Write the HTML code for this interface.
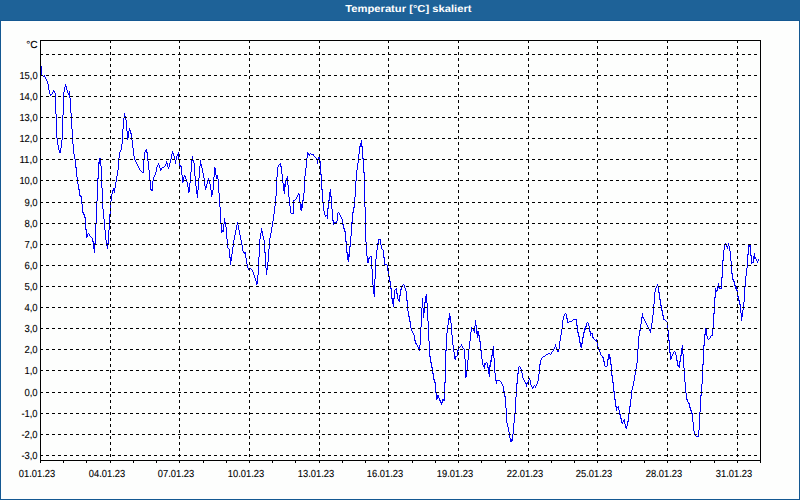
<!DOCTYPE html>
<html lang="de"><head><meta charset="utf-8"><title>Temperatur [°C] skaliert</title>
<style>
html,body{margin:0;padding:0;}
body{width:800px;height:500px;overflow:hidden;background:#1e6298;}
svg{display:block;position:absolute;left:0;top:0;}
text{font-family:"Liberation Sans",sans-serif;text-rendering:geometricPrecision;}
.t{font-size:10.2px;fill:#000;stroke:#000;stroke-width:0.1px;}
.h{font-size:10.2px;font-weight:bold;fill:#fff;}
</style></head><body>
<svg width="800" height="500" viewBox="0 0 800 500">
<rect x="0" y="0" width="800" height="500" fill="#145892"/>
<rect x="0" y="0" width="800" height="20" fill="#1e6298"/>
<rect x="1" y="21" width="798" height="478" fill="#fdfefd"/>
<text class="h" x="345.3" y="12" textLength="126.2" lengthAdjust="spacingAndGlyphs">Temperatur [°C] skaliert</text>
<g shape-rendering="crispEdges" stroke="#000" stroke-width="1" fill="none">
<path stroke="#0000f8" d="M41.5 66v9M42.5 75v1M43.5 76v1M44.5 75v2M45.5 77v2M46.5 79v2M47.5 81v3M48.5 84v6M49.5 90v4M50.5 94v2M51.5 94v1M52.5 92v2M53.5 90v2M54.5 91v2M55.5 93v21M56.5 114v24M57.5 138v7M58.5 145v5M59.5 150v3M60.5 148v5M61.5 140v8M62.5 115v25M63.5 92v23M64.5 87v5M65.5 84v3M66.5 86v4M67.5 90v3M68.5 93v2M69.5 91v7M70.5 98v15M71.5 113v16M72.5 129v15M73.5 144v10M74.5 154v5M75.5 159v9M76.5 167v10M77.5 177v7M78.5 184v6M79.5 189v7M80.5 195v2M81.5 196v8M82.5 204v9M83.5 212v3M84.5 214v4M85.5 217v13M86.5 229v9M87.5 234v3M88.5 233v1M89.5 234v2M90.5 236v1M91.5 237v1M92.5 238v4M93.5 241v8M94.5 243v10M95.5 223v21M96.5 201v22M97.5 178v23M98.5 162v17M99.5 158v6M100.5 158v8M101.5 166v22M102.5 188v21M103.5 209v10M104.5 219v11M105.5 230v10M106.5 240v6M107.5 243v6M108.5 230v14M109.5 214v16M110.5 201v13M111.5 194v7M112.5 190v4M113.5 188v3M114.5 188v5M115.5 182v6M116.5 176v6M117.5 170v6M118.5 158v12M119.5 152v6M120.5 150v2M121.5 144v6M122.5 129v15M123.5 118v11M124.5 113v5M125.5 116v4M126.5 120v11M127.5 131v9M128.5 131v7M129.5 128v3M130.5 130v4M131.5 133v7M132.5 140v8M133.5 148v8M134.5 156v4M135.5 160v2M136.5 162v2M137.5 164v2M138.5 166v2M139.5 168v2M140.5 170v1M141.5 171v1M142.5 172v1M143.5 160v13M144.5 152v8M145.5 150v2M146.5 149v4M147.5 152v9M148.5 161v9M149.5 170v11M150.5 180v10M151.5 189v2M152.5 181v10M153.5 177v4M154.5 175v2M155.5 172v3M156.5 167v5M157.5 165v2M158.5 163v2M159.5 165v3M160.5 168v3M161.5 168v2M162.5 167v1M163.5 167v1M164.5 166v1M165.5 164v2M166.5 161v3M167.5 163v4M168.5 167v2M169.5 163v4M170.5 159v4M171.5 154v5M172.5 151v3M173.5 153v3M174.5 156v4M175.5 160v4M176.5 156v4M177.5 154v2M178.5 152v7M179.5 159v7M180.5 165v2M181.5 166v9M182.5 175v8M183.5 177v5M184.5 175v2M185.5 176v3M186.5 179v3M187.5 182v5M188.5 187v6M189.5 183v9M190.5 172v11M191.5 160v12M192.5 156v5M193.5 160v3M194.5 163v13M195.5 176v10M196.5 186v8M197.5 190v8M198.5 178v12M199.5 166v12M200.5 160v6M201.5 164v4M202.5 168v5M203.5 173v5M204.5 178v8M205.5 186v4M206.5 184v4M207.5 180v4M208.5 178v3M209.5 180v4M210.5 184v6M211.5 190v7M212.5 190v5M213.5 177v13M214.5 167v10M215.5 168v7M216.5 175v4M217.5 175v4M218.5 179v14M219.5 193v14M220.5 207v17M221.5 224v9M222.5 230v2M223.5 224v8M224.5 218v6M225.5 222v5M226.5 227v12M227.5 239v9M228.5 248v1M229.5 249v9M230.5 257v8M231.5 254v7M232.5 247v7M233.5 240v7M234.5 235v5M235.5 230v5M236.5 225v5M237.5 222v3M238.5 225v5M239.5 230v5M240.5 235v5M241.5 240v5M242.5 245v6M243.5 251v2M244.5 252v2M245.5 252v6M246.5 258v6M247.5 264v4M248.5 268v2M249.5 268v1M250.5 268v1M251.5 269v1M252.5 270v2M253.5 272v3M254.5 275v3M255.5 278v3M256.5 281v4M257.5 275v9M258.5 257v18M259.5 239v18M260.5 233v6M261.5 228v5M262.5 231v5M263.5 236v4M264.5 240v13M265.5 252v16M266.5 268v7M267.5 262v8M268.5 249v13M269.5 238v11M270.5 233v5M271.5 227v6M272.5 221v6M273.5 214v7M274.5 206v8M275.5 196v10M276.5 177v19M277.5 167v10M278.5 165v2M279.5 164v1M280.5 163v4M281.5 166v8M282.5 174v9M283.5 183v8M284.5 184v10M285.5 180v7M286.5 178v3M287.5 176v9M288.5 185v12M289.5 197v9M290.5 206v7M291.5 213v1M292.5 213v1M293.5 200v14M294.5 200v1M295.5 199v1M296.5 197v2M297.5 195v2M298.5 193v2M299.5 194v9M300.5 203v7M301.5 204v7M302.5 200v8M303.5 193v8M304.5 176v17M305.5 168v8M306.5 158v10M307.5 152v6M308.5 153v2M309.5 154v2M310.5 153v1M311.5 154v1M312.5 154v1M313.5 154v2M314.5 156v1M315.5 157v1M316.5 158v2M317.5 159v5M318.5 157v3M319.5 157v4M320.5 161v14M321.5 174v16M322.5 189v13M323.5 202v9M324.5 211v4M325.5 215v2M326.5 215v1M327.5 208v11M328.5 200v9M329.5 192v9M330.5 189v8M331.5 196v13M332.5 209v12M333.5 220v5M334.5 222v2M335.5 222v1M336.5 221v2M337.5 213v8M338.5 212v1M339.5 213v2M340.5 215v2M341.5 217v2M342.5 219v6M343.5 224v5M344.5 228v4M345.5 231v11M346.5 241v12M347.5 252v8M348.5 254v8M349.5 246v11M350.5 236v11M351.5 222v14M352.5 212v11M353.5 207v6M354.5 197v11M355.5 181v16M356.5 170v11M357.5 163v7M358.5 154v9M359.5 146v8M360.5 143v4M361.5 140v7M362.5 146v13M363.5 158v15M364.5 172v35M365.5 207v35M366.5 242v14M367.5 256v7M368.5 258v5M369.5 257v2M370.5 256v1M371.5 256v13M372.5 269v16M373.5 285v9M374.5 279v18M375.5 259v20M376.5 250v9M377.5 243v7M378.5 239v5M379.5 239v1M380.5 239v6M381.5 245v4M382.5 249v1M383.5 250v8M384.5 257v8M385.5 264v1M386.5 264v1M387.5 265v6M388.5 270v7M389.5 276v6M390.5 281v8M391.5 288v11M392.5 298v6M393.5 298v9M394.5 290v9M395.5 289v1M396.5 288v6M397.5 293v6M398.5 299v2M399.5 295v7M400.5 289v7M401.5 287v3M402.5 285v2M403.5 284v1M404.5 285v3M405.5 288v3M406.5 291v10M407.5 300v11M408.5 311v6M409.5 316v6M410.5 321v7M411.5 328v3M412.5 331v2M413.5 333v2M414.5 335v6M415.5 340v4M416.5 343v2M417.5 345v2M418.5 347v3M419.5 345v6M420.5 327v18M421.5 308v19M422.5 298v10M423.5 308v10M424.5 302v11M425.5 296v7M426.5 294v9M427.5 303v18M428.5 321v20M429.5 341v16M430.5 356v7M431.5 362v6M432.5 367v7M433.5 373v7M434.5 379v4M435.5 382v11M436.5 392v8M437.5 395v4M438.5 395v3M439.5 398v3M440.5 400v3M441.5 402v3M442.5 399v4M443.5 399v2M444.5 382v19M445.5 350v33M446.5 333v18M447.5 325v8M448.5 318v7M449.5 313v7M450.5 316v7M451.5 323v12M452.5 335v10M453.5 345v7M454.5 352v7M455.5 356v4M456.5 356v1M457.5 350v6M458.5 348v3M459.5 347v1M460.5 346v1M461.5 344v2M462.5 346v2M463.5 348v1M464.5 349v10M465.5 359v19M466.5 370v7M467.5 360v10M468.5 349v11M469.5 341v8M470.5 332v9M471.5 327v5M472.5 328v1M473.5 329v2M474.5 326v7M475.5 320v6M476.5 325v9M477.5 331v7M478.5 331v5M479.5 335v7M480.5 341v10M481.5 350v9M482.5 359v6M483.5 365v2M484.5 363v6M485.5 363v2M486.5 362v1M487.5 363v5M488.5 367v7M489.5 365v12M490.5 360v7M491.5 355v7M492.5 349v7M493.5 346v12M494.5 358v15M495.5 373v8M496.5 380v4M497.5 380v1M498.5 380v1M499.5 380v1M500.5 381v1M501.5 382v2M502.5 384v2M503.5 386v6M504.5 391v6M505.5 396v12M506.5 408v15M507.5 423v4M508.5 427v5M509.5 432v6M510.5 438v4M511.5 439v3M512.5 434v7M513.5 423v11M514.5 413v10M515.5 397v16M516.5 383v14M517.5 373v11M518.5 367v7M519.5 366v1M520.5 367v2M521.5 369v4M522.5 373v5M523.5 378v2M524.5 380v2M525.5 382v2M526.5 383v4M527.5 382v2M528.5 380v2M529.5 378v2M530.5 380v5M531.5 385v2M532.5 387v2M533.5 386v2M534.5 385v1M535.5 386v2M536.5 384v2M537.5 381v3M538.5 374v7M539.5 364v10M540.5 360v5M541.5 358v2M542.5 357v1M543.5 356v1M544.5 356v1M545.5 355v1M546.5 354v1M547.5 354v1M548.5 353v1M549.5 353v1M550.5 354v1M551.5 352v2M552.5 351v1M553.5 349v2M554.5 347v2M555.5 344v3M556.5 347v3M557.5 350v2M558.5 349v3M559.5 341v8M560.5 335v6M561.5 329v6M562.5 320v9M563.5 316v4M564.5 314v2M565.5 313v1M566.5 314v5M567.5 318v5M568.5 322v1M569.5 321v1M570.5 321v1M571.5 321v1M572.5 320v1M573.5 319v1M574.5 319v1M575.5 319v1M576.5 319v7M577.5 325v8M578.5 332v5M579.5 336v7M580.5 342v5M581.5 343v5M582.5 337v7M583.5 332v6M584.5 328v5M585.5 326v4M586.5 323v4M587.5 322v1M588.5 323v3M589.5 326v6M590.5 331v5M591.5 333v1M592.5 333v5M593.5 337v2M594.5 339v1M595.5 340v1M596.5 339v3M597.5 341v7M598.5 347v2M599.5 349v3M600.5 352v3M601.5 355v1M602.5 356v2M603.5 357v5M604.5 361v5M605.5 366v1M606.5 366v1M607.5 359v7M608.5 354v6M609.5 354v5M610.5 357v8M611.5 364v12M612.5 375v8M613.5 382v10M614.5 391v9M615.5 399v8M616.5 406v5M617.5 407v1M618.5 406v4M619.5 410v5M620.5 414v5M621.5 418v5M622.5 422v2M623.5 420v2M624.5 419v5M625.5 424v4M626.5 426v3M627.5 421v5M628.5 413v9M629.5 406v8M630.5 399v8M631.5 390v9M632.5 386v4M633.5 381v5M634.5 375v6M635.5 369v6M636.5 363v6M637.5 349v14M638.5 336v13M639.5 330v6M640.5 324v7M641.5 317v7M642.5 313v5M643.5 317v2M644.5 319v2M645.5 321v2M646.5 323v2M647.5 325v2M648.5 327v2M649.5 329v2M650.5 329v4M651.5 323v6M652.5 315v8M653.5 304v11M654.5 292v12M655.5 288v4M656.5 286v2M657.5 284v2M658.5 286v7M659.5 292v8M660.5 299v7M661.5 305v6M662.5 310v6M663.5 315v5M664.5 319v1M665.5 320v1M666.5 321v1M667.5 322v8M668.5 330v11M669.5 340v13M670.5 352v8M671.5 356v3M672.5 354v2M673.5 352v2M674.5 351v1M675.5 352v3M676.5 355v6M677.5 360v6M678.5 365v2M679.5 361v7M680.5 355v7M681.5 348v8M682.5 345v9M683.5 354v14M684.5 368v14M685.5 382v11M686.5 393v7M687.5 399v3M688.5 402v2M689.5 403v5M690.5 407v4M691.5 410v4M692.5 413v9M693.5 422v9M694.5 431v4M695.5 434v2M696.5 436v1M697.5 436v1M698.5 430v7M699.5 412v18M700.5 395v17M701.5 384v12M702.5 364v20M703.5 345v20M704.5 334v12M705.5 328v7M706.5 329v7M707.5 336v3M708.5 339v1M709.5 338v1M710.5 336v2M711.5 335v1M712.5 328v8M713.5 313v16M714.5 297v17M715.5 288v10M716.5 290v2M717.5 286v5M718.5 283v5M719.5 287v2M720.5 288v1M721.5 277v12M722.5 260v18M723.5 250v11M724.5 244v6M725.5 243v1M726.5 244v3M727.5 246v3M728.5 243v3M729.5 246v5M730.5 251v10M731.5 261v13M732.5 273v7M733.5 279v3M734.5 281v5M735.5 285v4M736.5 287v4M737.5 290v7M738.5 296v5M739.5 300v5M740.5 304v9M741.5 313v8M742.5 310v7M743.5 302v8M744.5 287v15M745.5 276v11M746.5 268v8M747.5 254v14M748.5 244v11M749.5 244v3M750.5 244v12M751.5 255v9M752.5 262v1M753.5 256v7M754.5 253v6M755.5 257v2M756.5 259v2M757.5 261v2M758.5 259v2"/>
<g stroke-dasharray="3 3">
<path d="M40 54.5H760M40 75.5H760M40 96.5H760M40 117.5H760M40 138.5H760M40 159.5H760M40 180.5H760M40 202.5H760M40 223.5H760M40 244.5H760M40 265.5H760M40 286.5H760M40 307.5H760M40 328.5H760M40 349.5H760M40 370.5H760M40 392.5H760M40 413.5H760M40 434.5H760M40 455.5H760"/>
<path d="M110.5 40V460M179.5 40V460M249.5 40V460M319.5 40V460M388.5 40V460M458.5 40V460M528.5 40V460M597.5 40V460M667.5 40V460M737.5 40V460"/>
</g>
<rect x="40.5" y="40.5" width="720" height="420"/>
<path d="M40.5 461v2M63.5 461v2M86.5 461v2M110.5 461v2M133.5 461v2M156.5 461v2M179.5 461v2M203.5 461v2M226.5 461v2M249.5 461v2M272.5 461v2M295.5 461v2M319.5 461v2M342.5 461v2M365.5 461v2M388.5 461v2M412.5 461v2M435.5 461v2M458.5 461v2M481.5 461v2M505.5 461v2M528.5 461v2M551.5 461v2M574.5 461v2M597.5 461v2M621.5 461v2M644.5 461v2M667.5 461v2M690.5 461v2M714.5 461v2M737.5 461v2M760.5 461v2"/>
</g>
<g class="t" text-anchor="end">
<text x="37.6" y="48" textLength="11.4" lengthAdjust="spacingAndGlyphs">°C</text>
<text x="37.6" y="79" textLength="18.2" lengthAdjust="spacingAndGlyphs">15,0</text>
<text x="37.6" y="100" textLength="18.2" lengthAdjust="spacingAndGlyphs">14,0</text>
<text x="37.6" y="121" textLength="18.2" lengthAdjust="spacingAndGlyphs">13,0</text>
<text x="37.6" y="142" textLength="18.2" lengthAdjust="spacingAndGlyphs">12,0</text>
<text x="37.6" y="163" textLength="18.2" lengthAdjust="spacingAndGlyphs">11,0</text>
<text x="37.6" y="184" textLength="18.2" lengthAdjust="spacingAndGlyphs">10,0</text>
<text x="37.6" y="206" textLength="13.2" lengthAdjust="spacingAndGlyphs">9,0</text>
<text x="37.6" y="227" textLength="13.2" lengthAdjust="spacingAndGlyphs">8,0</text>
<text x="37.6" y="248" textLength="13.2" lengthAdjust="spacingAndGlyphs">7,0</text>
<text x="37.6" y="269" textLength="13.2" lengthAdjust="spacingAndGlyphs">6,0</text>
<text x="37.6" y="290" textLength="13.2" lengthAdjust="spacingAndGlyphs">5,0</text>
<text x="37.6" y="311" textLength="13.2" lengthAdjust="spacingAndGlyphs">4,0</text>
<text x="37.6" y="332" textLength="13.2" lengthAdjust="spacingAndGlyphs">3,0</text>
<text x="37.6" y="353" textLength="13.2" lengthAdjust="spacingAndGlyphs">2,0</text>
<text x="37.6" y="374" textLength="13.2" lengthAdjust="spacingAndGlyphs">1,0</text>
<text x="37.6" y="396" textLength="13.2" lengthAdjust="spacingAndGlyphs">0,0</text>
<text x="37.6" y="417" textLength="16.2" lengthAdjust="spacingAndGlyphs">-1,0</text>
<text x="37.6" y="438" textLength="16.2" lengthAdjust="spacingAndGlyphs">-2,0</text>
<text x="37.6" y="459" textLength="16.2" lengthAdjust="spacingAndGlyphs">-3,0</text>
</g>
<g class="t" text-anchor="middle">
<text x="37" y="477" textLength="36.4" lengthAdjust="spacingAndGlyphs">01.01.23</text>
<text x="107" y="477" textLength="36.4" lengthAdjust="spacingAndGlyphs">04.01.23</text>
<text x="176" y="477" textLength="36.4" lengthAdjust="spacingAndGlyphs">07.01.23</text>
<text x="246" y="477" textLength="36.4" lengthAdjust="spacingAndGlyphs">10.01.23</text>
<text x="316" y="477" textLength="36.4" lengthAdjust="spacingAndGlyphs">13.01.23</text>
<text x="385" y="477" textLength="36.4" lengthAdjust="spacingAndGlyphs">16.01.23</text>
<text x="455" y="477" textLength="36.4" lengthAdjust="spacingAndGlyphs">19.01.23</text>
<text x="525" y="477" textLength="36.4" lengthAdjust="spacingAndGlyphs">22.01.23</text>
<text x="594" y="477" textLength="36.4" lengthAdjust="spacingAndGlyphs">25.01.23</text>
<text x="664" y="477" textLength="36.4" lengthAdjust="spacingAndGlyphs">28.01.23</text>
<text x="734" y="477" textLength="36.4" lengthAdjust="spacingAndGlyphs">31.01.23</text>
</g>
</svg>
</body></html>
